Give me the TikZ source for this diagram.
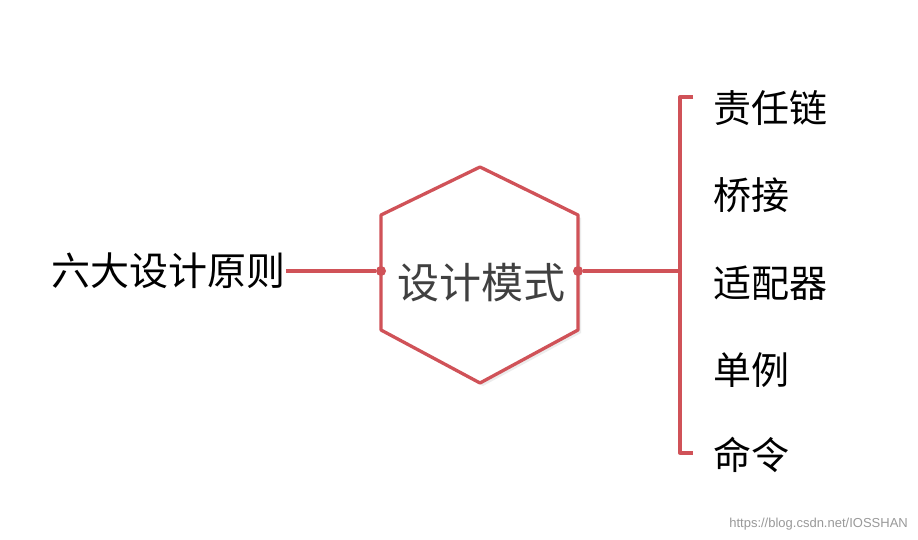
\documentclass[tikz,border=0pt]{standalone}
\usepackage{fontspec}
\setmainfont{Liberation Sans}
\newfontfamily\cjk{Noto Sans CJK SC}
\usetikzlibrary{shadows}
\definecolor{hred}{RGB}{208,82,88}
\begin{document}
\begin{tikzpicture}[x=1pt,y=-1pt,
  ln/.style={draw=hred,line width=3.3pt},
  dotc/.style={circle,fill=hred,inner sep=0pt,minimum size=10pt},
  item/.style={font=\cjk\fontsize{38}{41}\selectfont,anchor=west,inner sep=0pt}]
\useasboundingbox (0,0) rectangle (918,540);
\fill[white] (0,0) rectangle (918,540);
\draw[ln,fill=white,line join=round,drop shadow={shadow xshift=3pt,shadow yshift=-3pt,opacity=0.15}]
  (480,167) -- (578,215) -- (578,330) -- (480,383) -- (381,330) -- (381,215) -- cycle;
\node[inner sep=0pt,text=black!75,font=\cjk\fontsize{42}{45}\selectfont] (c) at (481,283) {设计模式};
\node[dotc] (dl) at (381,271) {};
\node[dotc] (dr) at (578,271) {};
\node[inner sep=0pt,anchor=east,font=\cjk\fontsize{39}{42}\selectfont] (l) at (286,271) {六大设计原则};
\draw[ln] (l.east) -- (dl);
\coordinate (b) at (680,271);
\draw[ln] (dr) -- (b);
\coordinate (bt) at (680,97);
\coordinate (bb) at (680,453);
\draw[ln,line join=round] ([xshift=13pt]bt) -- (bt) -- (bb) -- ([xshift=13pt]bb);
\node[item] (i1) at (713,108) {责任链};
\node[item] (i2) at (713,195) {桥接};
\node[item] (i3) at (713,283) {适配器};
\node[item] (i4) at (713,370) {单例};
\node[item] (i5) at (713,455) {命令};
\node[anchor=east,inner sep=0pt,text=black!40,font=\fontsize{13}{14}\selectfont] (w) at (908,524) {https://blog.csdn.net/IOSSHAN};
\end{tikzpicture}
\end{document}
